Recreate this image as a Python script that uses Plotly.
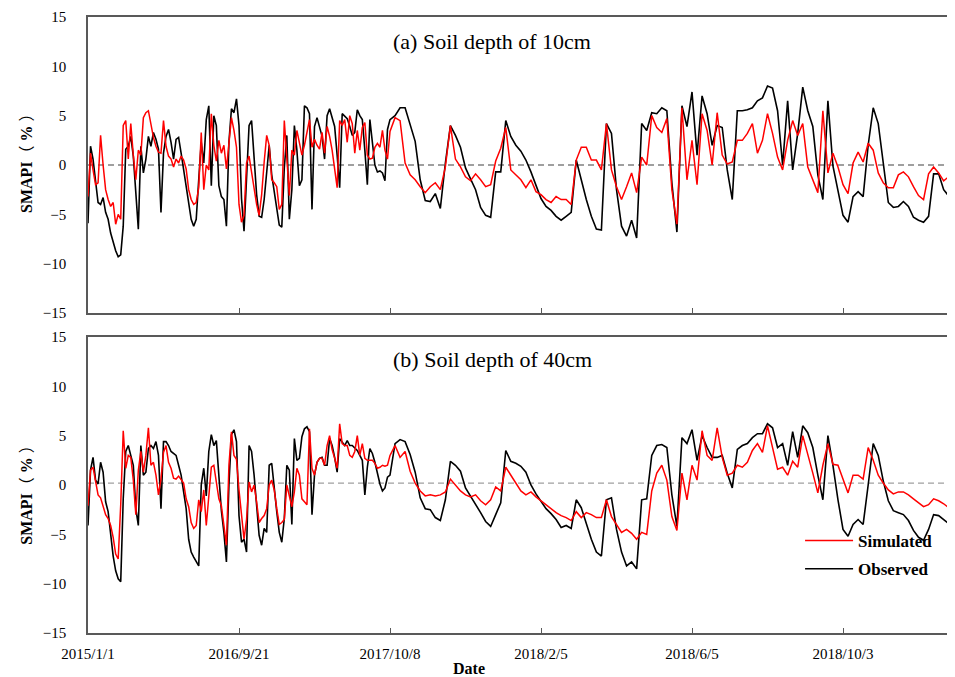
import plotly.graph_objects as go

# ---------------- data ----------------
# x = observation index: every 2nd record up to index 240, every 4th afterwards
tick_pos = [0, 120, 240, 360, 480, 600]
tick_labels = ["2015/1/1", "2016/9/21", "2017/10/8", "2018/2/5", "2018/6/5", "2018/10/3"]
y_ticks = [-15, -10, -5, 0, 5, 10, 15]
early_index = list(range(0, 241, 2))
late_index = list(range(244, 689, 4))

# (a) 10 cm
obs_a_early = [-5.9, 1.9, 0.6, -1.8, -3.8, -4.0, -3.3, -4.8, -5.5, -6.9,
               -7.9, -8.7, -9.3, -9.1, -6.2, 1.6, 1.9, 2.9, 0.9, -2.8,
               -6.5, 1.9, -0.8, 0.6, 2.9, 1.9, 3.3, 2.6, 1.6, -4.8,
               1.2, 2.9, 3.6, 2.3, 0.6, 2.6, 2.8, 1.2, -0.4, -2.1,
               -3.8, -5.5, -6.2, -5.5, -1.5, 2.3, 0.2, 4.6, 6.0, -2.1,
               5.0, 4.0, -2.1, -3.2, -3.5, -6.2, 2.3, 5.7, 5.3, 6.7,
               4.0, -3.4, -6.7, -2.0, 4.0, 4.5, 0.3, -3.0, -5.2, -5.3,
               -3.5, -1.0, 2.0, -1.0, -2.8, -4.8, -6.1, -6.3, -0.3, 3.0,
               -5.5, -2.5, 4.0, 1.5, -2.1, -1.5, 6.0, 5.8, 5.2, -4.5,
               3.9, 4.8, 3.9, 2.9, 0.6, 5.0, 5.7, 4.8, 3.9, 1.0,
               -2.3, 5.2, 4.9, 4.7, 3.9, 3.0, 3.3, 5.6, 5.0, 4.6,
               1.5, -2.0, 4.6, 2.5, 0.0, -0.7, -0.6, -0.8, -1.6, 3.6, 4.6]
obs_a_late = [5.0, 5.8, 5.8, 4.2, 2.4, -1.5, -3.6, -3.7, -2.9,
              -4.4, 0.2, 4.0, 3.0, 1.8, -0.3, -1.4, -2.5, -4.3, -5.1,
              -5.3, -0.7, -0.7, 4.5, 2.9, 2.0, 1.4, 0.5, -0.7, -2.1,
              -3.4, -4.2, -4.6, -5.2, -5.6, -5.2, -4.8, 0.5, -1.6, -3.5,
              -5.2, -6.5, -6.6, 4.2, 3.2, -2.5, -6.2, -7.2, -5.6, -7.4,
              4.2, 3.5, 5.3, 5.2, 5.8, 5.5, -1.8, -6.8, 6.0, 3.9,
              7.4, 1.0, 7.0, 5.2, 2.0, 4.0, 3.8, -0.5, -3.5, 5.5,
              5.5, 5.6, 5.8, 6.5, 6.8, 8.0, 7.8, 5.5, 0.0, 6.5,
              -0.5, 3.2, 7.9, 5.5, 3.9, -1.0, -3.5, 6.5, -0.1, -2.8,
              -5.1, -5.8, -3.2, -2.7, -3.2, 2.0, 5.8, 4.2, 0.2, -3.8,
              -4.3, -4.2, -3.7, -4.2, -5.3, -5.6, -5.8, -5.2, -0.9, -0.9,
              -2.5, -3.1, -3.8]

sim_a_early = [-3.2, 1.2, -0.5, -2.0, -1.8, 3.0, 0.0, -2.5, -3.5, -4.2,
               -3.8, -6.0, -5.0, -5.5, 4.0, 4.5, 0.6, 4.2, 1.0, -1.5,
               1.5, 1.0, 4.8, 5.3, 5.5, 4.0, 2.8, 1.9, 1.3, 1.2,
               4.5, 1.9, 0.9, 0.6, -0.2, 0.6, 0.2, 0.9, 0.5, -0.4,
               -2.5, -3.5, -4.0, -3.8, -2.3, 3.3, -2.5, 0.0, -0.5, 5.2,
               2.0, 0.4, 2.5, 1.2, 2.0, -0.4, 2.5, 4.8, 3.5, 1.8,
               -4.0, -5.8, -5.1, 0.2, 0.9, -0.9, -2.6, -4.0, -5.1, -3.0,
               0.3, 3.0, 2.0, -1.5, -1.8, -2.2, -4.5, -4.0, 4.5, 0.5,
               -3.1, 1.5, 1.0, 3.5, 2.3, 1.0, 2.0, 3.5, 4.6, 1.8,
               2.6, 2.0, 1.6, 3.3, 1.2, 3.9, 2.9, 1.5, -0.4, -2.3,
               4.5, 4.0, 4.6, 2.3, 5.0, 4.2, 1.2, 3.5, 1.5, 3.8,
               4.3, 1.0, 0.6, 0.7, 1.8, 2.2, 1.8, 3.5, 1.5, 0.6, 3.4]
sim_a_late = [4.8, 4.5, 0.2, -1.0, -1.5, -2.2, -2.8, -2.2, -1.8,
              -2.5, -0.2, 4.0, 0.6, -0.2, -1.2, -1.6, -0.9, -1.5, -2.2,
              -2.0, 0.4, 1.7, 3.8, -0.5, -1.0, -1.5, -2.3, -1.5, -2.7,
              -3.0, -3.5, -3.8, -3.2, -3.5, -3.5, -4.0, 0.5, 1.8, 1.8,
              0.5, 0.5, -0.5, 4.2, -0.5, -2.2, -3.5, -2.2, -0.8, -2.8,
              0.8, 0.0, 5.0, 3.8, 3.3, 4.7, -2.5, -6.0, 5.8, -1.5,
              2.5, -2.0, 5.2, 3.5, 0.0, 5.3, 1.0, 0.1, 0.3, 2.5,
              2.5, 3.2, 4.2, 1.2, 2.5, 5.2, 3.2, 0.8, -0.5, 2.5,
              4.5, 3.0, 4.2, -0.2, -1.6, -2.8, 5.5, -0.8, 1.2, -0.2,
              -2.0, -2.9, 0.2, 1.3, 0.3, 2.2, 1.5, -0.8, -1.8, -2.3,
              -2.3, -1.0, -0.7, -1.2, -2.2, -3.1, -3.5, -0.9, -0.2, -0.8,
              -1.6, -1.2, 1.8]

# (b) 40 cm
obs_b_early = [-4.1, 1.5, 2.8, 0.5, 0.1, 2.3, 1.3, -1.7, -2.7, -5.3,
               -7.2, -8.7, -9.5, -9.8, -1.4, 3.4, 4.0, 3.0, 2.0, -2.4,
               -4.1, 4.0, 1.0, 1.3, 3.7, 4.0, 3.7, 4.4, 3.0, -2.4,
               4.4, 4.4, 4.0, 3.4, 3.2, 3.0, 2.0, 1.0, -0.7, -2.4,
               -5.5, -6.8, -7.3, -7.8, -8.2, 0.0, 1.7, -1.1, 3.4, 5.1,
               4.0, 4.5, 1.0, -2.6, -4.8, -7.8, 0.0, 5.1, 5.6, 4.4,
               -3.1, -5.8, -5.5, -6.8, 4.0, 3.4, 1.0, -2.1, -5.1, -6.1,
               -4.4, -4.8, 2.0, 2.2, -0.4, -2.7, -4.8, -5.8, -3.4, 2.0,
               1.5, -4.0, 4.7, 2.5, 2.7, 4.9, 5.7, 5.9, 5.4, -3.0,
               1.0, 2.3, 2.7, 2.8, 2.0, 2.0, 4.7, 4.0, 2.8, 1.3,
               4.7, 4.4, 4.0, 4.5, 4.0, 4.0, 3.7, 3.5, 3.0, 2.5,
               -1.0, 1.8, 3.7, 3.2, 2.3, 1.2, 0.1, -0.6, -0.3, 0.8, 1.0]
obs_b_late = [4.2, 4.6, 4.4, 3.1, 1.3, -1.3, -2.4, -2.5, -3.3,
              -3.6, -1.5, 2.4, 2.0, 1.4, -0.3, -1.1, -1.9, -2.8, -3.7,
              -4.2, -3.0, -1.8, 3.5, 2.4, 2.2, 1.9, 1.3, 0.0, -0.9,
              -1.7, -2.4, -2.9, -3.5, -4.3, -4.1, -4.4, -1.5, -2.3, -4.0,
              -5.5, -6.8, -7.2, -1.5, -1.3, -4.5, -6.8, -8.2, -7.8, -8.5,
              -1.5, -1.4, 3.0, 4.0, 4.1, 3.8, -1.0, -4.2, 4.8, 4.2,
              5.6, 2.5, 5.0, 3.8, 2.8, 2.8, 3.0, 1.2, -0.3, 3.6,
              4.0, 4.2, 4.8, 5.2, 5.2, 6.2, 5.8, 3.8, 4.2, 2.0,
              5.4, 2.8, 6.0, 5.3, 3.8, 1.0, -1.5, 5.0, 2.0, -1.5,
              -4.5, -5.2, -4.0, -3.5, -4.0, 0.0, 4.2, 3.0, 0.4, -1.6,
              -2.6, -2.8, -3.0, -3.6, -4.6, -5.3, -5.6, -4.5, -3.0, -3.1,
              -3.5, -3.9, -4.2]

sim_b_early = [-2.1, 1.5, 1.8, 0.3, -1.0, -1.3, -2.1, -3.0, -3.4, -4.1,
               -5.3, -7.0, -7.5, -2.0, 5.5, 1.7, 3.0, 2.8, 0.5, -3.0,
               1.5, 3.4, 1.3, 3.0, 5.8, 2.0, 2.3, 1.0, -1.0, 0.6,
               3.3, 4.0, 2.3, 1.7, 0.7, 0.6, 0.9, 0.6, 0.2, -1.4,
               -2.2, -3.8, -4.4, -4.1, -1.5, -2.7, -0.5, -4.1, -1.5, 1.8,
               2.0, 0.3, -1.4, -2.1, -4.1, -6.1, 2.0, 5.4, 3.0, 2.6,
               -0.5, -2.8, -5.5, -3.5, 0.3, -0.7, 0.0, -1.7, -3.8, -3.4,
               -3.1, -2.4, 0.0, 0.5, -0.5, -2.4, -4.0, -3.8, -3.5, 0.0,
               -1.0, -2.2, -0.7, 1.7, 1.0, -1.4, -1.7, -2.0, 5.7, 1.7,
               1.0, 2.3, 2.7, 2.7, 2.0, 4.0, 5.0, 3.6, 2.7, 1.7,
               6.2, 4.2, 4.0, 4.0, 3.0, 2.8, 3.4, 5.0, 3.0, 4.2,
               2.7, 2.5, 2.5, 2.5, 2.2, 1.7, 1.8, 2.0, 1.9, 2.0, 3.0]
sim_b_late = [4.0, 2.8, 3.4, 1.4, 0.2, -0.6, -1.1, -1.0, -1.1,
              -1.0, -0.7, 0.6, 0.0, -0.6, -1.0, -1.2, -1.0, -1.6, -2.0,
              -1.5, -0.2, -0.6, 1.8, 1.0, 0.1, -0.6, -1.0, -0.7, -1.2,
              -1.6, -2.0, -2.4, -2.8, -3.1, -3.3, -3.6, -2.7, -3.3, -2.8,
              -3.0, -3.3, -3.3, -1.5, -3.2, -4.0, -4.8, -4.5, -4.9, -5.5,
              -4.8, -5.0, -0.6, 1.2, 2.0, 0.5, -3.2, -4.6, 1.2, -1.5,
              2.0, 0.5, 5.5, 3.0, 2.5, 5.8, 2.8, 1.0, 1.2, 2.0,
              1.8, 2.3, 3.5, 4.2, 3.3, 6.0, 3.8, 1.6, 1.8, 1.0,
              2.4, 1.8, 5.0, 3.2, 1.2, -0.8, 2.0, 4.2, 2.1, 2.0,
              0.5, -0.8, 1.0, 1.0, 0.6, 3.8, 2.5, 1.0, 0.2, -0.5,
              -0.9, -0.7, -0.7, -1.0, -1.4, -1.8, -2.2, -2.0, -1.4, -1.6,
              -1.9, -2.3, -1.4]

ref_line_a = 0.0
ref_line_b = 0.2

x_all = early_index + late_index
obs_a = obs_a_early + obs_a_late
sim_a = sim_a_early + sim_a_late
obs_b = obs_b_early + obs_b_late
sim_b = sim_b_early + sim_b_late

SERIF = "Liberation Serif, Times New Roman, serif"
CJK = "Noto Sans CJK SC"
AXIS_COL = "#595959"

fig = go.Figure()

# panel (a)
fig.add_trace(go.Scatter(x=x_all, y=obs_a, mode="lines", name="Observed",
                         line=dict(color="#000000", width=1.6), xaxis="x", yaxis="y",
                         showlegend=False))
fig.add_trace(go.Scatter(x=x_all, y=sim_a, mode="lines", name="Simulated",
                         line=dict(color="#ff0000", width=1.5), xaxis="x", yaxis="y",
                         showlegend=False))
# panel (b)
fig.add_trace(go.Scatter(x=x_all, y=obs_b, mode="lines", name="Observed",
                         line=dict(color="#000000", width=1.6), xaxis="x2", yaxis="y2",
                         legendgroup="obs", legendrank=2))
fig.add_trace(go.Scatter(x=x_all, y=sim_b, mode="lines", name="Simulated",
                         line=dict(color="#ff0000", width=1.5), xaxis="x2", yaxis="y2",
                         legendgroup="sim", legendrank=1))

common_x = dict(range=[0, 689], tickvals=tick_pos, ticktext=tick_labels,
                ticks="inside", ticklen=5, tickwidth=1.2, tickcolor=AXIS_COL,
                showline=True, linecolor=AXIS_COL, linewidth=1.6, mirror=True,
                showgrid=False, zeroline=False,
                tickfont=dict(family=SERIF, size=15, color="#000000"))
common_y = dict(range=[-15, 15], tickvals=y_ticks, ticks="",
                showline=True, linecolor=AXIS_COL, linewidth=1.6, mirror=False,
                showgrid=False, zeroline=False, ticklabelstandoff=17,
                tickfont=dict(family=SERIF, size=15, color="#000000"))

# the page body keeps an 8px margin, so the figure is 8px smaller on each axis
fig.update_layout(
    width=947, height=669,
    margin=dict(l=80, r=0, t=9, b=44, autoexpand=False),
    paper_bgcolor="white", plot_bgcolor="white",
    xaxis=dict(common_x, anchor="y", domain=[0, 1], showticklabels=False),
    yaxis=dict(common_y, anchor="x", domain=[0.5195, 1]),
    xaxis2=dict(common_x, anchor="y2", domain=[0, 1], ticklabelstandoff=6),
    yaxis2=dict(common_y, anchor="x2", domain=[0, 0.4805]),
    legend=dict(x=0.8213, y=0.1785, xanchor="left", yanchor="top",
                bgcolor="rgba(0,0,0,0)", borderwidth=0, itemwidth=48,
                tracegroupgap=3,
                font=dict(family=SERIF, size=17, color="#000000", weight="bold")),
    showlegend=True,
)

# dashed zero reference lines
fig.add_shape(type="line", xref="x domain", yref="y", x0=0, x1=1,
              y0=ref_line_a, y1=ref_line_a, layer="below",
              line=dict(color="#404040", width=1.2, dash="6px,4px"))
fig.add_shape(type="line", xref="x2 domain", yref="y2", x0=0, x1=1,
              y0=ref_line_b, y1=ref_line_b, layer="below",
              line=dict(color="#a0a0a0", width=1.2, dash="6px,4px"))

# panel titles
fig.add_annotation(text="(a) Soil depth of 10cm", xref="paper", yref="paper",
                   x=0.466, y=0.961, showarrow=False, xanchor="center", yanchor="middle",
                   font=dict(family=SERIF, size=22, color="#000000"))
fig.add_annotation(text="(b) Soil depth of 40cm", xref="paper", yref="paper",
                   x=0.466, y=0.4448, showarrow=False, xanchor="center", yanchor="middle",
                   font=dict(family=SERIF, size=22, color="#000000"))

# axis titles
ylab = ("<b>SMAPI</b><span style='font-family:" + CJK + "'>（</span>"
        " <b>%</b> <span style='font-family:" + CJK + "'>）</span>")
for ycen in (0.7695, 0.2310):
    fig.add_annotation(text=ylab, xref="paper", yref="paper", x=0, y=ycen,
                       xshift=-63, showarrow=False, textangle=-90,
                       xanchor="center", yanchor="middle",
                       font=dict(family=SERIF, size=16, color="#000000"))
fig.add_annotation(text="<b>Date</b>", xref="paper", yref="paper", x=0.4394, y=-0.0584,
                   showarrow=False, xanchor="center", yanchor="middle",
                   font=dict(family=SERIF, size=16, color="#000000"))

fig.write_html("out.html")
